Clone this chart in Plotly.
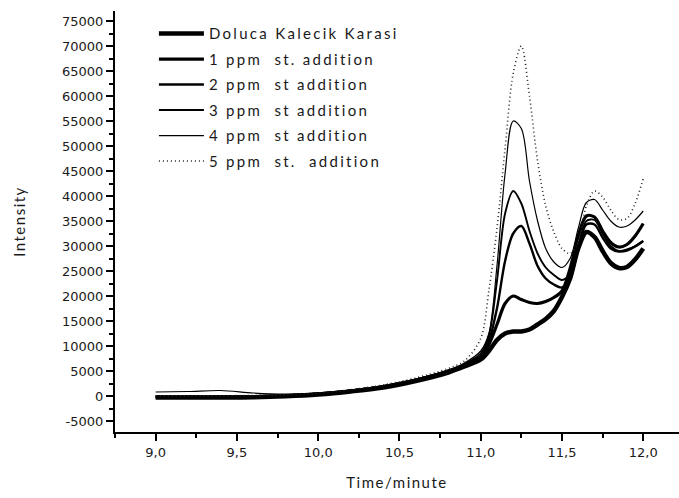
import plotly.graph_objects as go

# ---- data ----
time_min = [9.0, 9.2, 9.4, 9.6, 9.8, 10.0, 10.2, 10.4, 10.6, 10.8, 10.9,
            11.0, 11.05, 11.1, 11.15, 11.2, 11.25, 11.3, 11.35, 11.4, 11.45,
            11.5, 11.55, 11.6, 11.65, 11.7, 11.75, 11.8, 11.85, 11.9, 11.95, 12.0]

doluca = [-300, -300, -300, -250, -50, 300, 900, 1700, 3000, 4700, 5900,
          7300, 9000, 11200, 12500, 12900, 12900, 13300, 14300, 15400, 17000,
          19800, 23500, 29500, 32800, 31800, 29000, 26600, 25600, 25800, 27300, 29500]

ppm1 = [-200, -200, -200, -150, 50, 400, 1000, 1800, 3100, 4900, 6100,
        7800, 10300, 14300, 18500, 20000, 19300, 18700, 18500, 18900, 19700,
        21000, 25500, 32000, 36000, 35800, 33000, 30700, 29800, 30300, 32000, 34500]

ppm2 = [-200, -200, -150, -100, 100, 450, 1050, 1900, 3200, 5000, 6200,
        8000, 11000, 17500, 27000, 32500, 34000, 30500, 26000, 23500, 22300,
        21700, 23500, 29500, 34300, 34300, 31700, 29500, 28900, 29100, 29900, 31000]

ppm3 = [-100, -100, -50, 0, 150, 500, 1100, 2000, 3300, 5100, 6400,
        8500, 12000, 23000, 36500, 41000, 38500, 33000, 28500, 25700, 24200,
        23200, 24500, 30000, 35000, 35200, 32500, 30000, 29000, 29300, 30000, 31000]

ppm4 = [800, 900, 1100, 600, 400, 650, 1200, 2100, 3400, 5200, 6600,
        9000, 12500, 26000, 44500, 55000, 53500, 43000, 35000, 29500, 26800,
        25700, 27500, 33500, 38700, 39300, 37200, 35000, 33800, 34000, 35200, 37000]

ppm5 = [0, 0, 50, 100, 250, 600, 1250, 2200, 3600, 5500, 7000,
        11500, 21000, 33500, 49500, 64500, 70000, 60000, 47000, 38000, 32800,
        29500, 28500, 31000, 38000, 41000, 39800, 37200, 35300, 35500, 38500, 43500]

series_names = ["Doluca Kalecik Karasi", "1 ppm  st. addition", "2 ppm  st addition",
                "3 ppm  st addition", "4 ppm  st addition", "5 ppm  st.  addition"]
series_values = [doluca, ppm1, ppm2, ppm3, ppm4, ppm5]

x_tickvals = [9.0, 9.5, 10.0, 10.5, 11.0, 11.5, 12.0]
x_ticktext = ["9,0", "9,5", "10,0", "10,5", "11,0", "11,5", "12,0"]
y_tickvals = list(range(-5000, 75001, 5000))
y_ticktext = [str(v) for v in y_tickvals]

# ---- styles ----
widths = [4.5, 3.2, 2.4, 1.9, 1.2, 1.6]
dashes = ["solid", "solid", "solid", "solid", "solid", "1px,3px"]
colors = ["#000000", "#000000", "#000000", "#000000", "#000000", "#222222"]

fig = go.Figure()
for i, (name, vals) in enumerate(zip(series_names, series_values)):
    fig.add_trace(go.Scatter(
        x=time_min, y=vals, mode="lines", name=name,
        legendgroup=f"g{i}",
        line=dict(color=colors[i], width=widths[i], dash=dashes[i],
                  shape="spline", smoothing=0.9),
        hoverinfo="skip",
    ))

axis_font = dict(family="DejaVu Sans", size=13, color="#1a1a1a")
title_font = dict(family="Lato", size=15, color="#1a1a1a")

fig.update_layout(
    width=679, height=498,
    margin=dict(l=115, r=0, t=11, b=66, autoexpand=False),
    paper_bgcolor="white", plot_bgcolor="white",
    showlegend=True,
    legend=dict(x=0.069, y=0.985, xanchor="left", yanchor="top",
                bgcolor="rgba(0,0,0,0)", borderwidth=0,
                font=dict(family="Lato", size=15, color="#1a1a1a"),
                tracegroupgap=3, itemwidth=45),
    xaxis=dict(range=[8.75, 12.22], showgrid=False, zeroline=False,
               showline=True, linecolor="black", linewidth=2,
               tickmode="array", tickvals=x_tickvals, ticktext=x_ticktext,
               ticks="outside", ticklen=7, tickwidth=1.5, tickcolor="black",
               tickfont=axis_font,
               minor=dict(tickmode="linear", tick0=8.75, dtick=0.25,
                          ticks="outside", ticklen=4, tickwidth=1.5, tickcolor="black"),
               title=dict(text="Time/minute", font=title_font, standoff=19),
               automargin=False),
    yaxis=dict(range=[-7200, 77000], showgrid=False, zeroline=False,
               showline=True, linecolor="black", linewidth=2,
               tickmode="array", tickvals=y_tickvals, ticktext=y_ticktext,
               ticks="outside", ticklen=7, tickwidth=1.5, tickcolor="black",
               tickfont=axis_font,
               minor=dict(tickmode="linear", tick0=-7500, dtick=2500,
                          ticks="outside", ticklen=4, tickwidth=1.5, tickcolor="black"),
               title=dict(text="Intensity", font=title_font, standoff=33),
               automargin=False),
)

post = """
document.body.style.margin = '0';
document.querySelectorAll('.legend [clip-path]').forEach(function(e){e.removeAttribute('clip-path');});
document.querySelectorAll('.legendtext').forEach(function(e){e.style.letterSpacing='2.3px';});
document.querySelectorAll('.g-xtitle text, .g-ytitle text').forEach(function(e){e.style.letterSpacing='1.5px';});
"""
fig.write_html("out.html", post_script=post, config={"displayModeBar": False})
